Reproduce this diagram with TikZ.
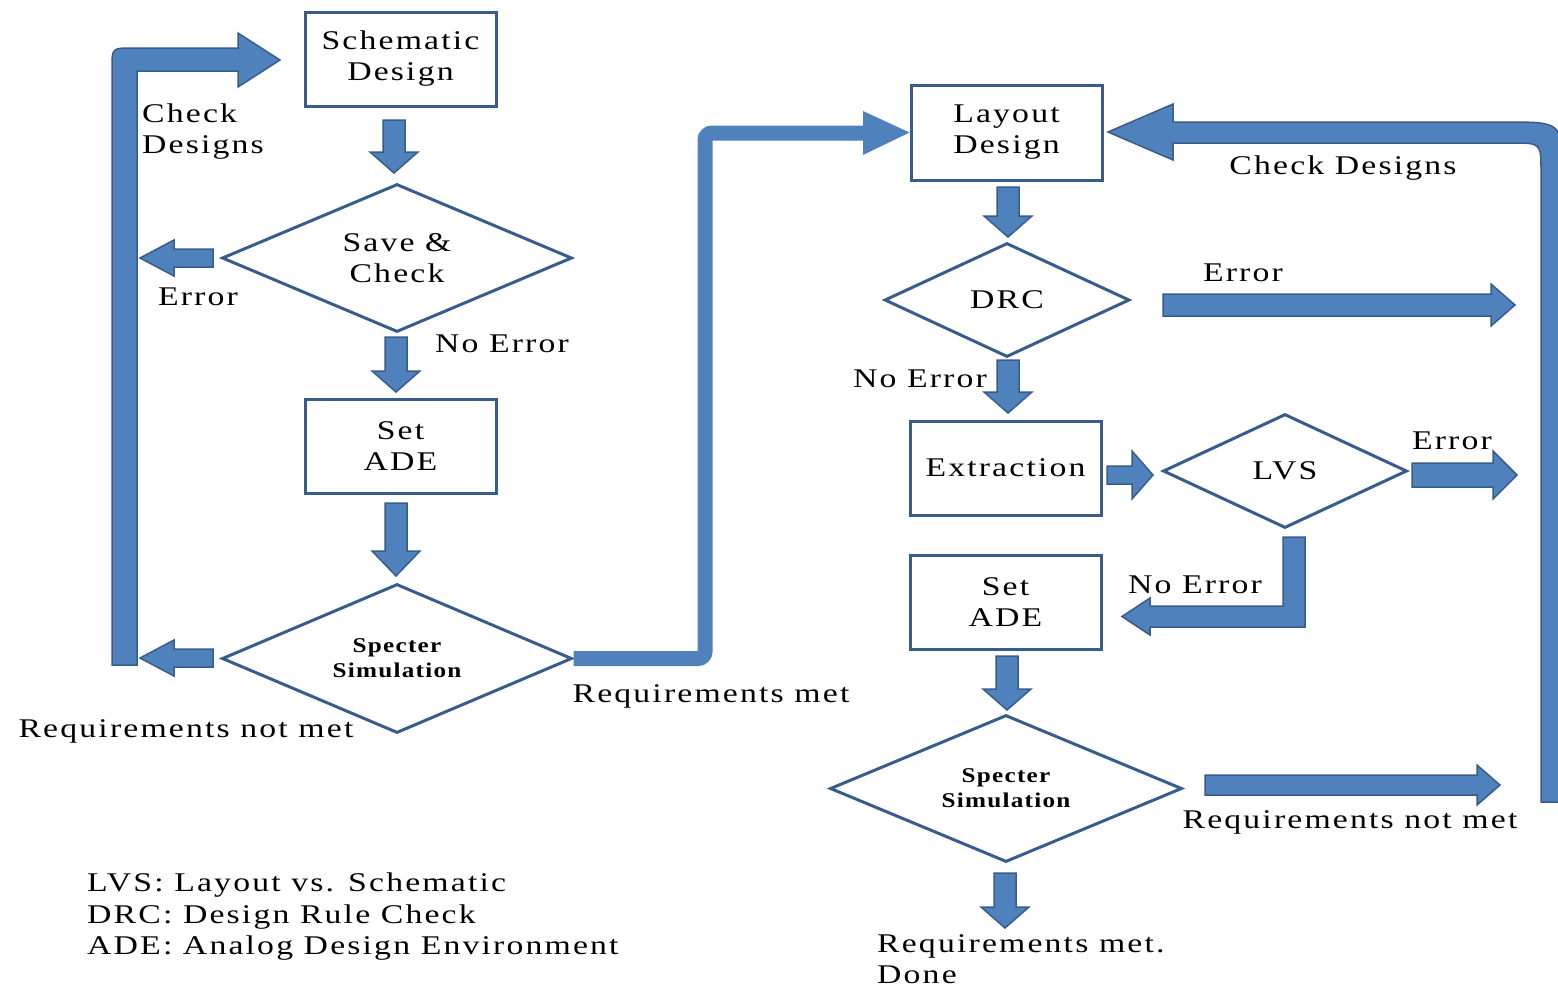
\documentclass[tikz,border=0pt]{standalone}
\usepackage{fontspec}
\setmainfont{Liberation Serif}[FakeStretch=1.25, LetterSpace=8]
\newfontfamily\specfont{Liberation Serif}[FakeStretch=1.2, LetterSpace=6]
\usetikzlibrary{shapes.geometric,calc}
\definecolor{afill}{HTML}{4F81BD}
\definecolor{aline}{HTML}{385D8A}
\tikzset{
  base/.style={font=\fontsize{27}{31}\selectfont, text=black},
  box/.style={draw=aline, line width=3pt, minimum width=191pt, minimum height=94pt, align=center, inner sep=0pt, base},
  dia/.style={diamond, draw=aline, line width=3pt, align=center, inner sep=0pt, base},
  spec/.style={font=\specfont\bfseries\fontsize{21}{25}\selectfont},
  lbl/.style={base, inner sep=0pt, align=center},
  lbll/.style={base, inner sep=0pt, align=left, anchor=west},
  blk/.style={fill=afill, draw=aline, line width=1.5pt, line join=miter},
  shaft/.style={draw=afill, line width=15pt, rounded corners=7pt},
}
\newcommand\barrow[5]{%
  \coordinate (bh) at ($(#2)!#5!(#1)$);
  \draw[blk] ($(#1)!#3!90:(#2)$) -- ($(bh)!#3!90:(#2)$) -- ($(bh)!#4!90:(#2)$) -- (#2)
     -- ($(bh)!#4!-90:(#2)$) -- ($(bh)!#3!-90:(#2)$) -- ($(#1)!#3!-90:(#2)$) -- cycle;
}
\begin{document}
\begin{tikzpicture}[x=1pt,y=-1pt]
\clip (0,0) rectangle (1558,989);
\fill[white] (0,0) rectangle (1558,989);

% ---------- left column nodes
\node[box] (sd) at (400.5,59) {Schematic\\Design};
\node[dia, minimum width=350pt, minimum height=148pt, aspect=2.36] (sc) at (397,258) {Save \&\\Check};
\node[box] (sa1) at (400.5,446) {Set\\ADE};
\node[dia, minimum width=350pt, minimum height=149pt, aspect=2.35, spec] (sim1) at (397,658.5) {Specter\\Simulation};

% ---------- right column nodes
\node[box, minimum height=95pt] (ld) at (1006.5,132.5) {Layout\\Design};
\node[dia, minimum width=245pt, minimum height=114pt, aspect=2.15] (drc) at (1007,300) {DRC};
\node[box] (ex) at (1005.5,468) {Extraction};
\node[dia, minimum width=244pt, minimum height=114pt, aspect=2.14] (lvs) at (1285,471) {LVS};
\node[box] (sa2) at (1005.5,602) {Set\\ADE};
\node[dia, minimum width=352pt, minimum height=147pt, aspect=2.39, spec] (sim2) at (1006,788.5) {Specter\\Simulation};

% ---------- arrow end coordinates
\coordinate (a1s) at (394,120);  \coordinate (a1e) at (394,173);
\coordinate (a2s) at (396,337);  \coordinate (a2e) at (396,392);
\coordinate (a3s) at (396,503);  \coordinate (a3e) at (396,576);
\coordinate (e1s) at (213,258);  \coordinate (e1e) at (140,258);
\coordinate (e2s) at (213,658);  \coordinate (e2e) at (140,658);
\coordinate (b1s) at (1008,187); \coordinate (b1e) at (1008,237);
\coordinate (b2s) at (1008,360); \coordinate (b2e) at (1008,413);
\coordinate (b3s) at (1107,475); \coordinate (b3e) at (1153,475);
\coordinate (b4s) at (1412,475); \coordinate (b4e) at (1517,475);
\coordinate (b5s) at (1163,305); \coordinate (b5e) at (1515,305);
\coordinate (b6s) at (1007,656); \coordinate (b6e) at (1007,710);
\coordinate (b7s) at (1205,785); \coordinate (b7e) at (1500,785);
\coordinate (b8s) at (1005,873); \coordinate (b8e) at (1005,928);

% ---------- straight block arrows
\barrow{a1s}{a1e}{11pt}{24pt}{21pt}
\barrow{a2s}{a2e}{11pt}{24pt}{21pt}
\barrow{a3s}{a3e}{11pt}{24pt}{25pt}
\barrow{e1s}{e1e}{9pt}{18pt}{34pt}
\barrow{e2s}{e2e}{9pt}{18pt}{34pt}
\barrow{b1s}{b1e}{11pt}{24pt}{21pt}
\barrow{b2s}{b2e}{11pt}{24pt}{21pt}
\barrow{b3s}{b3e}{9pt}{24pt}{21pt}
\barrow{b4s}{b4e}{12pt}{24pt}{24pt}
\barrow{b5s}{b5e}{11pt}{21pt}{24pt}
\barrow{b6s}{b6e}{11pt}{24pt}{21pt}
\barrow{b7s}{b7e}{10pt}{20pt}{23pt}
\barrow{b8s}{b8e}{11pt}{24pt}{21pt}

% ---------- elbow arrows
% LVS -> Set ADE (No Error)
\draw[blk] (1283,537) -- (1305,537) -- (1305,627) -- (1150,627) -- (1150,635)
  -- (1122,616.5) -- (1150,598) -- (1150,606) -- (1283,606) -- cycle;

% Requirements met: Specter -> Layout Design
\coordinate (rm1) at (705,658.5);
\coordinate (rm2) at (705,133);
\coordinate (rmh) at (863,133);
\draw[shaft] (sim1.east) -- (rm1) -- (rm2) -- (rmh);
\fill[afill] (863,111) -- (ld.west) -- (863,155) -- cycle;

% Left loop: Check Designs -> Schematic Design
\draw[blk] (112,665) -- (112,68) .. controls (112,48) .. (132,48) -- (238,48) -- (238,33)
  -- (280,60) -- (238,87) -- (238,71) -- (137,71) -- (137,665) -- cycle;

% Right loop: Check Designs -> Layout Design
\draw[blk] (1541,802) -- (1541,172) .. controls (1541,143) .. (1512,143) -- (1173,143)
  -- (1173,160) -- (1108,132) -- (1173,104) -- (1173,122) -- (1505,122)
  .. controls (1562,122) .. (1562,172) -- (1562,802) -- cycle;

% ---------- labels
\node[lbll] (l1) at (142,131.5) {Check\\Designs};
\node[lbl] (l2) at (198,297) {Error};
\node[lbl] (l3) at (502,344) {No Error};
\node[lbl] (l4) at (186,731) {Requirements not met};
\node[lbl] (l5) at (711,696) {Requirements met};
\node[lbl] (l6) at (1343,168) {Check Designs};
\node[lbl] (l7) at (1243,273) {Error};
\node[lbl] (l8) at (920,379) {No Error};
\node[lbl] (l9) at (1452,441) {Error};
\node[lbl] (l10) at (1195,585) {No Error};
\node[lbl] (l11) at (1350,822) {Requirements not met};
\node[lbll] (l12) at (877,959.5) {Requirements met.\\Done};
\node[lbll] (lg1) at (87,885) {LVS: Layout vs. Schematic};
\node[lbll] (lg2) at (87,917) {DRC: Design Rule Check};
\node[lbll] (lg3) at (87,948) {ADE: Analog Design Environment};
\end{tikzpicture}
\end{document}
